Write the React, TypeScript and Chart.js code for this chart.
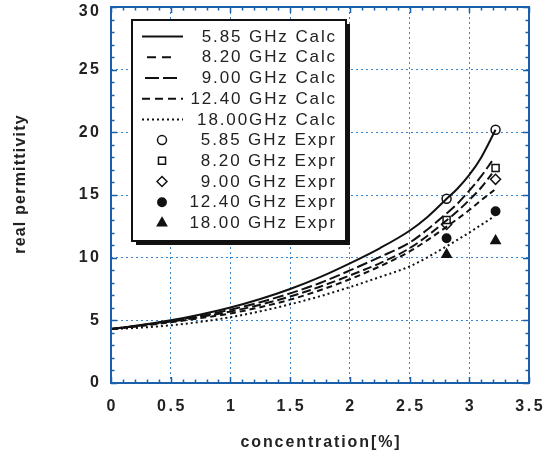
import React, { useEffect, useRef } from "react";
import { Chart, registerables } from "chart.js";
Chart.register(...registerables);

// ---- data ----
const calcX585 = [0, 0.25, 0.5, 0.75, 1, 1.25, 1.5, 1.75, 2, 2.25, 2.5, 2.65, 2.8, 2.9, 3.0, 3.1, 3.22];
const calcX820 = [0, 0.25, 0.5, 0.75, 1, 1.25, 1.5, 1.75, 2, 2.25, 2.5, 2.65, 2.8, 2.9, 3.0, 3.1, 3.19];
const calcX1240 = [0, 0.25, 0.5, 0.75, 1, 1.25, 1.5, 1.75, 2, 2.25, 2.5, 2.65, 2.8, 2.9, 3.0, 3.1, 3.21];
const calc585 = [4.3, 4.62, 5.0, 5.47, 6.02, 6.7, 7.5, 8.45, 9.55, 10.75, 12.15, 13.25, 14.6, 15.5, 16.6, 18.0, 20.2];
const calc820 = [4.3, 4.6, 4.95, 5.35, 5.85, 6.45, 7.15, 7.98, 8.98, 10.05, 11.2, 12.25, 13.45, 14.3, 15.35, 16.5, 17.7];
const calc900 = [4.3, 4.58, 4.9, 5.27, 5.7, 6.25, 6.9, 7.68, 8.58, 9.55, 10.75, 11.75, 12.9, 13.7, 14.6, 15.6, 16.7];
const calc1240 = [4.3, 4.55, 4.85, 5.18, 5.55, 6.05, 6.65, 7.4, 8.28, 9.3, 10.5, 11.4, 12.4, 13.08, 13.8, 14.58, 15.4];
const calc1800 = [4.3, 4.42, 4.6, 4.88, 5.25, 5.72, 6.28, 6.92, 7.65, 8.45, 9.3, 10.03, 10.85, 11.42, 12.0, 12.62, 13.3];

const exprX = [2.81, 3.22];
const expr585 = [14.7, 20.2];
const expr820 = [13.0, 17.15];
const expr900 = [12.65, 16.25];
const expr1240 = [11.55, 13.7];
const expr1800 = [10.25, 11.35];

const legendLabels = [
  "5.85 GHz Calc",
  "8.20 GHz Calc",
  "9.00 GHz Calc",
  "12.40 GHz Calc",
  "18.00GHz Calc",
  "5.85 GHz Expr",
  "8.20 GHz Expr",
  "9.00 GHz Expr",
  "12.40 GHz Expr",
  "18.00 GHz Expr",
];

const xTickValues = [0, 0.5, 1, 1.5, 2, 2.5, 3, 3.5];
const xTickLabels = ["0", "0.5", "1", "1.5", "2", "2.5", "3", "3.5"];
const yTickValues = [0, 5, 10, 15, 20, 25, 30];
const yTickLabels = ["0", "5", "10", "15", "20", "25", "30"];
const xTitle = "concentration[%]";
const yTitle = "real permittivity";

const pts = (xs: number[], ys: number[]) => ys.map((y, i) => ({ x: xs[i], y }));

const FRAME = "#1a5faa";
const GRID = "#3a86cc";

export default function App() {
  const ref = useRef<HTMLCanvasElement>(null);
  useEffect(() => {
    document.body.style.margin = "0";
    const canvas = ref.current!;

    const lineDs = (label: string, xs: number[], ys: number[], dash: number[], legendDash: number[]) => ({
      label,
      data: pts(xs, ys),
      showLine: true,
      borderColor: "#111",
      borderWidth: 2,
      borderDash: dash,
      borderCapStyle: "butt",
      pointRadius: 0,
      cubicInterpolationMode: "monotone",
      legendDash,
      kind: "line",
    });
    const pointDs = (label: string, ys: number[], style: string, radius: number, filled: boolean) => ({
      label,
      data: pts(exprX, ys),
      showLine: false,
      pointStyle: style,
      pointRadius: radius,
      pointBorderWidth: 1.5,
      pointBorderColor: "#111",
      pointBackgroundColor: filled ? "#111" : "#fff",
      kind: "point",
    });

    const datasets: any[] = [
      lineDs(legendLabels[0], calcX585, calc585, [], []),
      lineDs(legendLabels[1], calcX820, calc820, [11, 4], [9, 6]),
      lineDs(legendLabels[2], calcX820, calc900, [9, 4], [14, 4]),
      lineDs(legendLabels[3], calcX1240, calc1240, [6, 4], [8, 5]),
      lineDs(legendLabels[4], calcX1240, calc1800, [2, 3], [2, 3]),
      pointDs(legendLabels[5], expr585, "circle", 4.5, false),
      pointDs(legendLabels[6], expr820, "rect", 5, false),
      pointDs(legendLabels[7], expr900, "rectRot", 5, false),
      pointDs(legendLabels[8], expr1240, "circle", 4.2, true),
      pointDs(legendLabels[9], expr1800, "triangle", 5.3, true),
    ];

    const drawShape = (ctx: CanvasRenderingContext2D, style: string, x: number, y: number, r: number) => {
      ctx.beginPath();
      if (style === "circle") {
        ctx.arc(x, y, r, 0, Math.PI * 2);
      } else if (style === "rect") {
        const s = r * Math.SQRT1_2;
        ctx.rect(x - s, y - s, 2 * s, 2 * s);
      } else if (style === "rectRot") {
        ctx.moveTo(x - r, y);
        ctx.lineTo(x, y - r);
        ctx.lineTo(x + r, y);
        ctx.lineTo(x, y + r);
      } else if (style === "triangle") {
        for (let k = 0; k < 3; k++) {
          const a = (k * 2 * Math.PI) / 3;
          const px = x + Math.sin(a) * r;
          const py = y - Math.cos(a) * r;
          if (k === 0) ctx.moveTo(px, py);
          else ctx.lineTo(px, py);
        }
      }
      ctx.closePath();
    };

    const decor = {
      id: "decor",
      afterDatasetsDraw(chart: any) {
        const ctx: CanvasRenderingContext2D = chart.ctx;
        const { left, right, top, bottom } = chart.chartArea;
        const xs = chart.scales.x;
        const ys = chart.scales.y;
        ctx.save();
        // minor/major ticks inward on all sides
        ctx.strokeStyle = FRAME;
        ctx.lineWidth = 1.5;
        ctx.setLineDash([]);
        ctx.beginPath();
        for (let i = 0; i <= 35; i++) {
          const v = i / 10;
          const px = Math.round(xs.getPixelForValue(v)) + 0.5;
          const len = i % 5 === 0 ? 6 : 3.5;
          ctx.moveTo(px, bottom);
          ctx.lineTo(px, bottom - len);
          ctx.moveTo(px, top);
          ctx.lineTo(px, top + len);
        }
        for (let i = 0; i <= 30; i++) {
          const py = Math.round(ys.getPixelForValue(i)) + 0.5;
          const len = i % 5 === 0 ? 6 : 3.5;
          ctx.moveTo(left, py);
          ctx.lineTo(left + len, py);
          ctx.moveTo(right, py);
          ctx.lineTo(right - len, py);
        }
        ctx.stroke();
        // frame
        ctx.lineWidth = 2;
        ctx.strokeRect(left, top, right - left, bottom - top);

        // tick labels
        ctx.fillStyle = "#222";
        ctx.font = "bold 16px 'Liberation Sans', Arial, sans-serif";
        (ctx as any).letterSpacing = "2.5px";
        ctx.textBaseline = "middle";
        ctx.textAlign = "center";
        xTickValues.forEach((v, i) => {
          ctx.fillText(xTickLabels[i], xs.getPixelForValue(v) + 1.2, 407);
        });
        ctx.textAlign = "right";
        yTickValues.forEach((v, i) => {
          ctx.fillText(yTickLabels[i], 101.5, Math.max(ys.getPixelForValue(v), 12));
        });
        // axis titles
        (ctx as any).letterSpacing = "1.9px";
        ctx.textAlign = "center";
        ctx.textBaseline = "alphabetic";
        ctx.fillText(xTitle, (left + right) / 2 + 1, 447);
        (ctx as any).letterSpacing = "1.2px";
        ctx.save();
        ctx.translate(25, 184);
        ctx.rotate(-Math.PI / 2);
        ctx.textBaseline = "alphabetic";
        ctx.fillText(yTitle, 0, 0);
        ctx.restore();

        // legend
        const bx = 132, by = 20, bw = 214, bh = 221;
        ctx.fillStyle = "#111";
        ctx.fillRect(bx + 4, by + 4, bw, bh);
        ctx.fillStyle = "#fff";
        ctx.fillRect(bx, by, bw, bh);
        ctx.strokeStyle = "#111";
        ctx.lineWidth = 2;
        ctx.strokeRect(bx, by, bw, bh);

        ctx.font = "17px 'Liberation Sans', Arial, sans-serif";
        (ctx as any).letterSpacing = "1.9px";
        ctx.textAlign = "right";
        ctx.textBaseline = "middle";
        chart.data.datasets.forEach((ds: any, i: number) => {
          const cy = 36.5 + i * 20.72;
          if (ds.kind === "line") {
            ctx.strokeStyle = "#111";
            ctx.lineWidth = 2;
            ctx.setLineDash(ds.legendDash);
            ctx.beginPath();
            const x0 = i === 1 ? 147 : i === 2 ? 145 : 142;
            const x1 = i === 1 ? 177 : i === 2 ? 179 : 183;
            ctx.moveTo(x0, cy);
            ctx.lineTo(x1, cy);
            ctx.stroke();
            ctx.setLineDash([]);
          } else {
            drawShape(ctx, ds.pointStyle, 162, cy, ds.pointRadius);
            ctx.fillStyle = ds.pointBackgroundColor;
            ctx.fill();
            ctx.strokeStyle = "#111";
            ctx.lineWidth = 1.5;
            ctx.stroke();
          }
          ctx.fillStyle = "#222";
          ctx.fillText(ds.label, 337, cy + 0.5);
        });
        ctx.restore();
      },
    };

    const chart = new Chart(canvas, {
      type: "scatter",
      data: { datasets },
      options: {
        animation: false,
        responsive: false,
        layout: { padding: { left: 111, right: 23, top: 7, bottom: 71 } },
        plugins: { legend: { display: false }, tooltip: { enabled: false } },
        scales: {
          x: {
            type: "linear",
            min: 0,
            max: 3.5,
            ticks: { stepSize: 0.5, display: false },
            grid: { color: GRID, lineWidth: 1, drawTicks: false },
            border: { display: false, dash: [2, 3] },
            afterFit: (s: any) => { s.height = 0; },
          },
          y: {
            type: "linear",
            min: 0,
            max: 30,
            ticks: { stepSize: 5, display: false },
            grid: { color: GRID, lineWidth: 1, drawTicks: false },
            border: { display: false, dash: [2, 3] },
            afterFit: (s: any) => { s.width = 0; },
          },
        },
      } as any,
      plugins: [decor],
    });
    return () => chart.destroy();
  }, []);
  return <canvas ref={ref} width={552} height={454} style={{ display: "block" }} />;
}
